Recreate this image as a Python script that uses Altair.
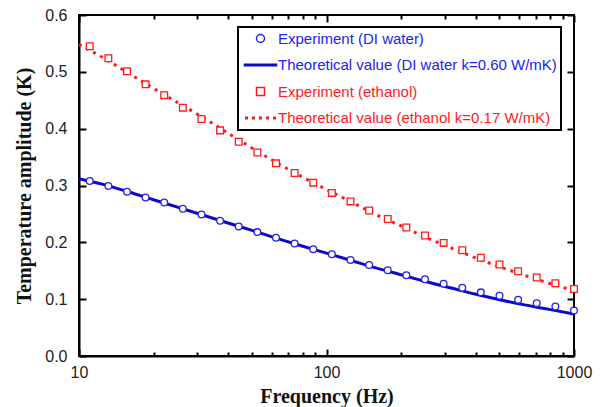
import altair as alt
import pandas as pd

# Frequencies of the measured points (Hz)
freq_exp = [11.05, 13.14, 15.63, 18.58, 22.10, 26.28, 31.25, 37.16, 44.19, 52.56,
            62.50, 74.33, 88.39, 105.1, 125.0, 148.7, 176.8, 210.2, 250.0, 297.3,
            353.6, 420.4, 500.0, 594.6, 707.1, 840.9, 1000.0]
water_exp = [0.308, 0.299, 0.289, 0.279, 0.270, 0.259, 0.249, 0.238, 0.228, 0.218,
             0.208, 0.198, 0.188, 0.179, 0.169, 0.160, 0.151, 0.142, 0.135, 0.127,
             0.120, 0.112, 0.106, 0.099, 0.093, 0.087, 0.080]
ethanol_exp = [0.545, 0.524, 0.501, 0.478, 0.459, 0.437, 0.417, 0.397, 0.377, 0.358,
               0.339, 0.322, 0.305, 0.287, 0.272, 0.256, 0.241, 0.226, 0.212, 0.199,
               0.186, 0.173, 0.161, 0.149, 0.138, 0.128, 0.118]

# Theoretical curves
freq_theo = [10, 12.5, 15.8, 20, 25, 31.6, 40, 50, 63, 79, 100, 126, 158, 200, 251,
             316, 398, 501, 631, 794, 1000]
water_theo = [0.312, 0.302, 0.289, 0.275, 0.262, 0.248, 0.234, 0.221, 0.207, 0.194,
              0.181, 0.168, 0.155, 0.143, 0.131, 0.120, 0.109, 0.099, 0.090, 0.082, 0.074]
ethanol_theo = [0.548, 0.525, 0.498, 0.471, 0.446, 0.420, 0.392, 0.366, 0.340, 0.316,
                0.293, 0.271, 0.249, 0.229, 0.209, 0.191, 0.173, 0.157, 0.142, 0.128, 0.115]

series = ["Experiment (DI water)",
          "Theoretical value (DI water k=0.60 W/mK)",
          "Experiment (ethanol)",
          "Theoretical value (ethanol k=0.17 W/mK)"]
colors = ["#2222e8", "#0a0ac8", "#ff1a1a", "#ff1a1a"]

x_major = [10, 100, 1000]
x_minor = [20, 30, 40, 50, 60, 70, 80, 90, 200, 300, 400, 500, 600, 700, 800, 900]
y_ticks = [0.0, 0.1, 0.2, 0.3, 0.4, 0.5, 0.6]

exp_df = pd.DataFrame({
    "freq": freq_exp + freq_exp,
    "value": water_exp + ethanol_exp,
    "series": [series[0]] * len(freq_exp) + [series[2]] * len(freq_exp),
})
theo_df = pd.DataFrame({
    "freq": freq_theo + freq_theo,
    "value": water_theo + ethanol_theo,
    "series": [series[1]] * len(freq_theo) + [series[3]] * len(freq_theo),
})

bar = "M-4,-0.19H4V0.19H-4Z"
dots = " ".join(f"M{c-0.19:.2f},-0.19H{c+0.19:.2f}V0.19H{c-0.19:.2f}Z" for c in [-3.5, -1.75, 0, 1.75, 3.5])
shapes = ["circle", bar, "square", dots]

x_scale = alt.Scale(type="log", domain=[10, 1000])
y_scale = alt.Scale(domain=[0, 0.6])

x_enc = alt.X("freq:Q", scale=x_scale,
              axis=alt.Axis(title="Frequency (Hz)", values=x_major, format="d",
                            ticks=False, tickSize=0, labelPadding=8, titlePadding=6,
                            labelFlush=False))
y_enc = alt.Y("value:Q", scale=y_scale,
              axis=alt.Axis(title="Temperature amplitude (K)", values=y_ticks, format=".1f",
                            ticks=False, tickSize=0, labelPadding=12, titlePadding=10))

legend = alt.Legend(title=None, orient="none", legendX=159, legendY=12)
color_enc = alt.Color("series:N", scale=alt.Scale(domain=series, range=colors), legend=legend)

line_water = alt.Chart(theo_df).transform_filter(
    alt.datum.series == series[1]
).mark_line(interpolate="monotone", strokeWidth=3).encode(
    x=x_enc, y=y_enc, color=color_enc)

line_eth = alt.Chart(theo_df).transform_filter(
    alt.datum.series == series[3]
).mark_line(interpolate="monotone", strokeWidth=3, strokeDash=[3, 5], strokeCap="butt").encode(
    x=x_enc, y=y_enc, color=color_enc)

pts = alt.Chart(exp_df).mark_point(filled=False, fill="white", strokeWidth=1.3, size=45, opacity=1).encode(
    x=x_enc, y=y_enc, color=color_enc,
    shape=alt.Shape("series:N", scale=alt.Scale(domain=series, range=shapes), legend=legend))

main = alt.layer(line_water, line_eth, pts)


def tick_layer(x_orient, x_values, x_len, y_orient=None, y_len=7):
    x = alt.X("freq:Q", scale=x_scale,
              axis=alt.Axis(orient=x_orient, title=None, values=x_values, labels=False,
                            domain=False, grid=False, ticks=True, tickSize=x_len, offset=-x_len))
    if y_orient is None:
        y = alt.Y("value:Q", scale=y_scale, axis=None)
    else:
        y = alt.Y("value:Q", scale=y_scale,
                  axis=alt.Axis(orient=y_orient, title=None, values=y_ticks, labels=False,
                                domain=False, grid=False, ticks=True, tickSize=y_len, offset=-y_len))
    return alt.Chart(exp_df).mark_point(opacity=0).encode(x=x, y=y)


chart = alt.layer(
    main,
    tick_layer("bottom", x_major, 7, "left", 7),
    tick_layer("bottom", x_minor, 4),
    tick_layer("top", x_major, 7, "right", 7),
    tick_layer("top", x_minor, 4),
).resolve_scale(x="independent", y="independent").properties(
    width=495, height=341,
    autosize=alt.AutoSizeParams(type="none"),
    padding={"left": 71, "top": 7, "right": 20, "bottom": 60},
).configure_view(
    stroke="black", strokeWidth=2
).configure_axis(
    grid=False, domainColor="black", domainWidth=2, tickColor="black", tickWidth=2,
    labelFont="Liberation Sans", labelFontSize=16, labelColor="#222222",
    titleFont="Liberation Serif", titleFontSize=20, titleFontWeight="bold", titleColor="#111111",
).configure_legend(
    strokeColor="black", strokeWidth=2, fillColor="white", padding=4,
    labelFont="Liberation Sans", labelFontSize=15, labelLimit=400,
    labelColor={"expr": "indexof(datum.label, 'ethanol') >= 0 ? '#ff1a1a' : '#2222e8'"},
    symbolSize=64, symbolStrokeWidth=1.5, symbolFillColor="white",
    symbolOffset=11, labelOffset=10, rowPadding=10.5,
)

chart.save("out.html", embed_options={"renderer": "svg", "actions": False})
